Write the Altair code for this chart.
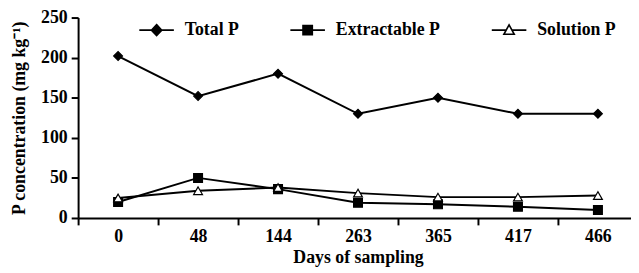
import altair as alt
import pandas as pd

days = ["0", "48", "144", "263", "365", "417", "466"]
series_names = ["Total P", "Extractable P", "Solution P"]
total_p = [202, 152, 180, 130, 150, 130, 130]
extractable_p = [20, 50, 36, 19, 17, 14, 10]
solution_p = [25, 34, 38, 31, 26, 26, 28]
y_ticks = [0, 50, 100, 150, 200, 250]

rows = []
for name, vals in zip(series_names, [total_p, extractable_p, solution_p]):
    for d, v in zip(days, vals):
        rows.append({"day": d, "value": v, "series": name})
df = pd.DataFrame(rows)

FONT = "Liberation Serif"

x_enc = alt.X(
    "day:N", sort=days, title="Days of sampling",
    scale=alt.Scale(type="band", paddingInner=0, paddingOuter=0, range=[0, 567]),
    axis=alt.Axis(tickBand="extent", labelAngle=0, tickSize=7, labelPadding=3,
                  titlePadding=3, grid=False),
)
y_enc = alt.Y(
    "value:Q", title="P concentration (mg kg⁻¹)",
    scale=alt.Scale(domain=[0, 250], nice=False),
    axis=alt.Axis(values=y_ticks, tickSize=7, labelPadding=4, titlePadding=12, grid=False),
)

base = alt.Chart(df)

lines = base.mark_line(color="black", strokeWidth=2).encode(
    x=x_enc, y=y_enc, detail="series:N"
)

points = base.mark_point(stroke="black", strokeWidth=1.2, size=80, opacity=1).encode(
    x=x_enc, y=y_enc,
    shape=alt.Shape("series:N", sort=series_names,
                    scale=alt.Scale(domain=series_names, range=["diamond", "square", "triangle-up"]),
                    legend=None),
    fill=alt.Fill("series:N", sort=series_names,
                  scale=alt.Scale(domain=series_names, range=["black", "black", "white"]),
                  legend=None),
)

legend_paths = [
    "M-1,0H1M0,-0.32L0.3,0L0,0.32L-0.3,0Z",
    "M-1,0H1M-0.27,-0.27H0.27V0.27H-0.27Z",
    "M-1,0H-0.17M0.17,0H1M0,-0.3L0.3,0.24L-0.3,0.24Z",
]
leg = alt.Legend(orient="none", legendX=61, legendY=-6, direction="horizontal", title=None,
                 symbolSize=1225, symbolStrokeWidth=1.6, symbolStrokeColor="black",
                 symbolOpacity=1, labelFont=FONT, labelFontSize=18, labelFontWeight="bold",
                 labelColor="black", labelOffset=10, columnPadding=48, padding=0)

legend_layer = base.mark_point(opacity=0).encode(
    x=x_enc, y=y_enc,
    shape=alt.Shape("series:N", sort=series_names,
                    scale=alt.Scale(domain=series_names, range=legend_paths), legend=leg),
    fill=alt.Fill("series:N", sort=series_names,
                  scale=alt.Scale(domain=series_names, range=["black", "black", "white"]), legend=leg),
    stroke=alt.Stroke("series:N", sort=series_names,
                      scale=alt.Scale(domain=series_names, range=["black", "black", "black"]), legend=leg),
)

chart = alt.layer(lines, points, legend_layer).resolve_scale(
    shape="independent", fill="independent", stroke="independent"
).properties(
    width=560, height=203,
    autosize=alt.AutoSizeParams(type="none"),
    padding={"left": 71, "top": 8, "right": 0, "bottom": 50},
).configure_view(stroke=None).configure_axis(
    domainColor="black", domainWidth=2, tickColor="black", tickWidth=2,
    labelFont=FONT, labelFontSize=18, labelFontWeight="bold", labelColor="black",
    titleFont=FONT, titleFontSize=18, titleFontWeight="bold", titleColor="black",
)

chart.save("out.html", embed_options={"renderer": "svg", "actions": False})
